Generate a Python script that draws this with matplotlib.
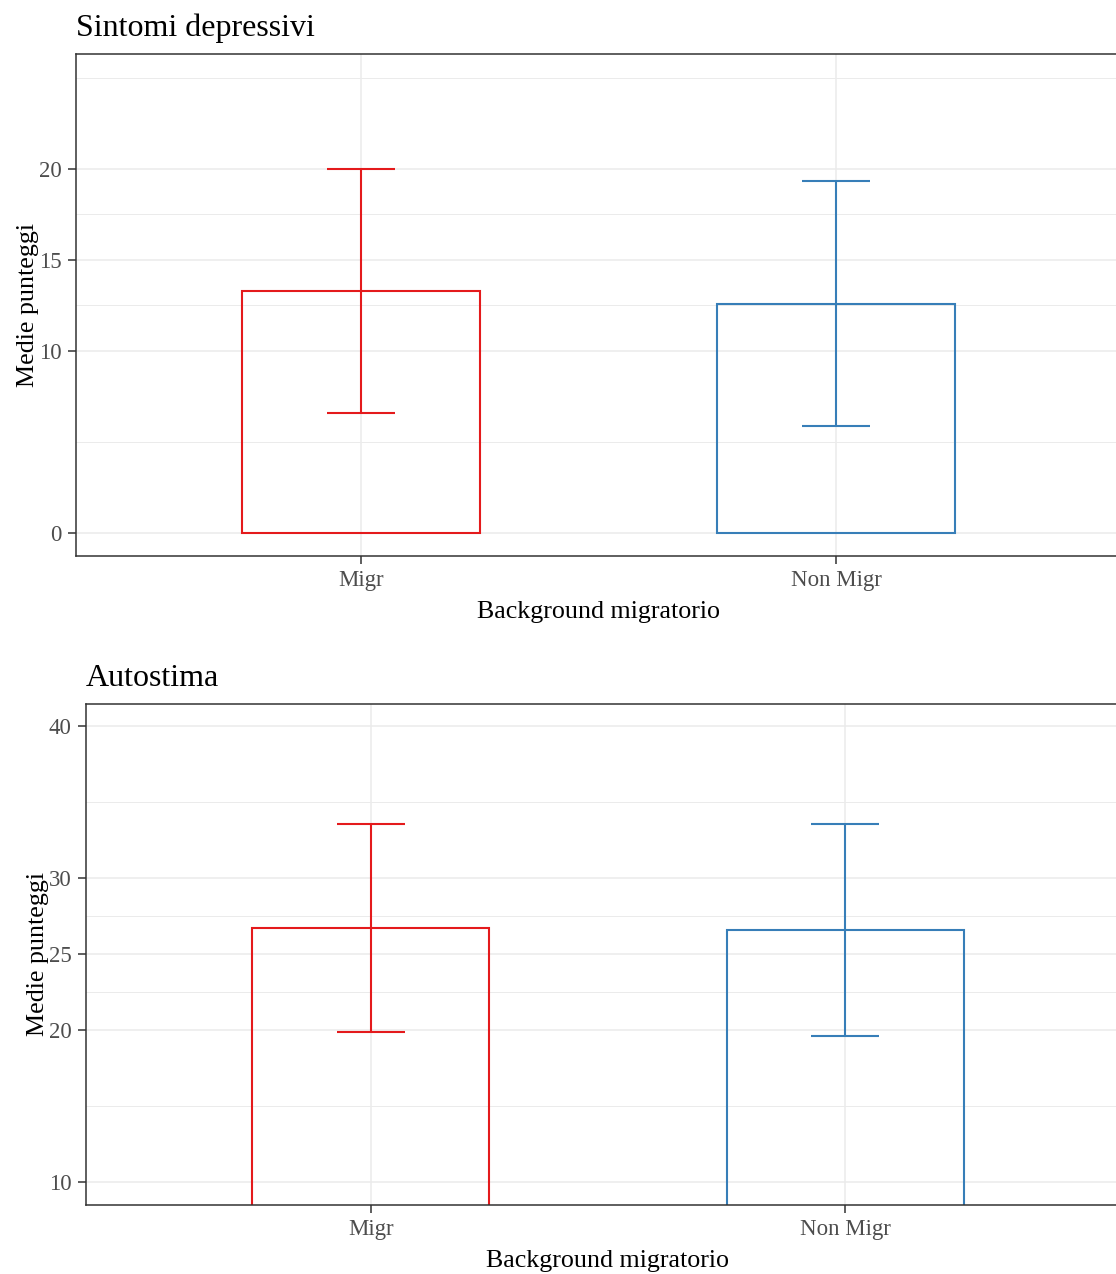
import matplotlib
matplotlib.use('Agg')
import matplotlib.pyplot as plt

plt.rcParams['font.family'] = ['Liberation Serif', 'DejaVu Serif']

gruppi = ['Migr', 'Non Migr']
colori = ['#E41A1C', '#377EB8']

# medie e deviazioni standard per gruppo
dep_medie = [13.29, 12.60]
dep_sd = [6.70, 6.73]
auto_medie = [26.74, 26.59]
auto_sd = [6.85, 6.97]

dep_breaks = [0, 10, 15, 20]
dep_minor = [5, 12.5, 17.5, 25]
auto_breaks = [10, 20, 25, 30, 40]
auto_minor = [15, 22.5, 27.5, 35]

W, H = 1116, 1274
fig = plt.figure(figsize=(W / 100, H / 100), dpi=100)


def pannello(box, titolo, medie, sd, breaks, minor, ylim):
	# box in pixel: sinistra, alto, destra, basso
	l, t, r, b = box
	ax = fig.add_axes([l / W, 1 - b / H, (r - l) / W, (b - t) / H])
	x = list(range(len(gruppi)))

	# griglia stile theme_bw
	for v in minor:
		ax.axhline(v, color='#EBEBEB', lw=0.7, zorder=0)
	for v in breaks:
		ax.axhline(v, color='#EBEBEB', lw=1.1, zorder=0)
	for v in x:
		ax.axvline(v, color='#EBEBEB', lw=1.1, zorder=0)

	ax.bar(x, medie, width=0.5, fill=False, edgecolor=colori, linewidth=1.5, zorder=2)

	# barre d'errore: media +/- sd, larghezza 0.14
	for i in x:
		lo = medie[i] - sd[i]
		hi = medie[i] + sd[i]
		ax.vlines(i, lo, hi, color=colori[i], lw=1.5, zorder=3)
		ax.hlines([lo, hi], i - 0.072, i + 0.072, color=colori[i], lw=1.5, zorder=3)

	ax.set_xlim(-0.6, len(gruppi) - 0.4)
	ax.set_ylim(*ylim)
	ax.set_xticks(x)
	ax.set_xticklabels(gruppi)
	ax.set_yticks(breaks)
	ax.tick_params(length=5.8, width=1.1, color='#333333', labelcolor='#4D4D4D',
				   labelsize=16.5, pad=4.5)
	for s in ax.spines.values():
		s.set_color('#333333')
		s.set_linewidth(1.1)

	ax.set_xlabel('Background migratorio', fontsize=18.7, color='black', labelpad=7)
	ax.set_title(titolo, loc='left', fontsize=23, pad=13)
	ax.set_ylabel('Medie punteggi', fontsize=18.7)
	ax.yaxis.set_label_coords(-0.035, 0.5)
	return ax


pannello((76, 54, 1121, 556), 'Sintomi depressivi', dep_medie, dep_sd,
		 dep_breaks, dep_minor, (-1.25, 26.29))
pannello((86, 704, 1130, 1205), 'Autostima', auto_medie, auto_sd,
		 auto_breaks, auto_minor, (8.51, 41.45))

plt.savefig('out.png', dpi=100)
